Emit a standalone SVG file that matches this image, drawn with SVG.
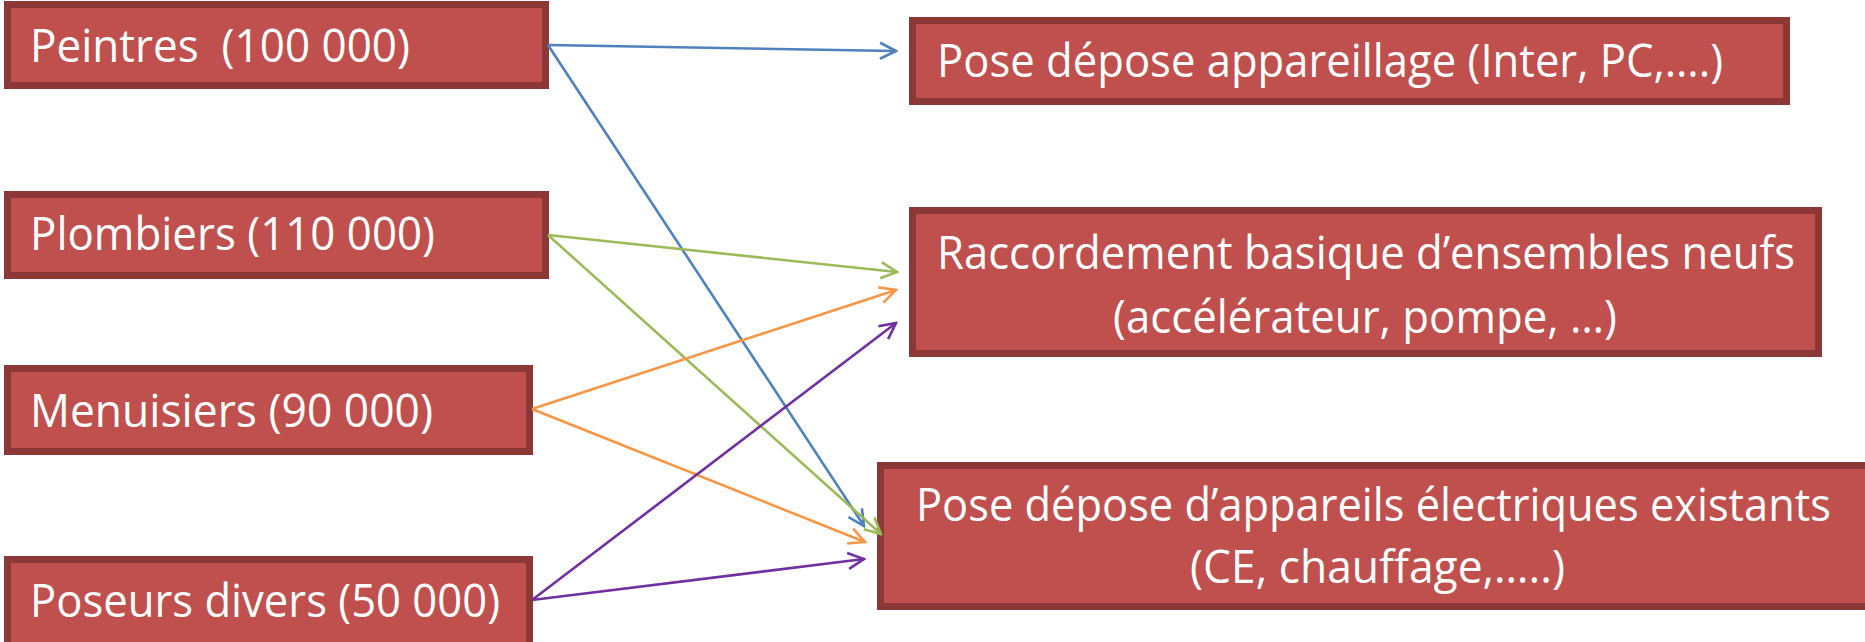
<svg xmlns="http://www.w3.org/2000/svg" width="1865" height="642" viewBox="0 0 1865 642">
<style>
.box{fill:#C0504D;stroke:#8C3836;stroke-width:7}
.t{fill:#FFFFFF;font-family:"Open Sans","Liberation Sans",sans-serif;font-size:45px}
.c{fill:none;stroke-width:2.6}
.blue{stroke:#4F81BD}.green{stroke:#9BBB59}.orange{stroke:#F79646}.purple{stroke:#7030A0}
</style>
<defs>
<marker id="aB" markerUnits="userSpaceOnUse" viewBox="0 0 20 20" refX="18" refY="10" markerWidth="20" markerHeight="20" orient="auto"><path d="M2,2 L18,10 L2,18" fill="none" stroke="#4F81BD" stroke-width="2.6"/></marker>
<marker id="aG" markerUnits="userSpaceOnUse" viewBox="0 0 20 20" refX="18" refY="10" markerWidth="20" markerHeight="20" orient="auto"><path d="M2,2 L18,10 L2,18" fill="none" stroke="#9BBB59" stroke-width="2.6"/></marker>
<marker id="aO" markerUnits="userSpaceOnUse" viewBox="0 0 20 20" refX="18" refY="10" markerWidth="20" markerHeight="20" orient="auto"><path d="M2,2 L18,10 L2,18" fill="none" stroke="#F79646" stroke-width="2.6"/></marker>
<marker id="aP" markerUnits="userSpaceOnUse" viewBox="0 0 20 20" refX="18" refY="10" markerWidth="20" markerHeight="20" orient="auto"><path d="M2,2 L18,10 L2,18" fill="none" stroke="#7030A0" stroke-width="2.6"/></marker>
</defs>
<rect width="1865" height="642" fill="#FFFFFF"/>
<g id="peintres"><rect class="box" x="7.5" y="4.5" width="538" height="81"/><text class="t" x="30" y="62" textLength="380" lengthAdjust="spacingAndGlyphs" xml:space="preserve">Peintres  (100 000)</text></g>
<g id="plombiers"><rect class="box" x="7.5" y="194.5" width="538" height="81"/><text class="t" x="30" y="250" textLength="405" lengthAdjust="spacingAndGlyphs">Plombiers (110 000)</text></g>
<g id="menuisiers"><rect class="box" x="7.5" y="368.5" width="522" height="83"/><text class="t" x="30" y="427" textLength="403" lengthAdjust="spacingAndGlyphs">Menuisiers (90 000)</text></g>
<g id="poseurs"><rect class="box" x="7.5" y="559.5" width="522" height="90"/><text class="t" x="30" y="617" textLength="470" lengthAdjust="spacingAndGlyphs">Poseurs divers (50 000)</text></g>
<g id="appareillage"><rect class="box" x="912.5" y="20.5" width="874" height="81"/><text class="t" x="937" y="77" textLength="786" lengthAdjust="spacingAndGlyphs">Pose dépose appareillage (Inter, PC,….)</text></g>
<g id="raccordement"><rect class="box" x="912.5" y="210.5" width="906" height="143"/><text class="t" x="937" y="269" textLength="858" lengthAdjust="spacingAndGlyphs">Raccordement basique d’ensembles neufs</text><text class="t" x="1113" y="333" textLength="504" lengthAdjust="spacingAndGlyphs">(accélérateur, pompe, …)</text></g>
<g id="existants"><rect class="box" x="880.5" y="465.5" width="990" height="141"/><text class="t" x="916" y="521" textLength="915" lengthAdjust="spacingAndGlyphs">Pose dépose d’appareils électriques existants</text><text class="t" x="1190" y="583" textLength="375" lengthAdjust="spacingAndGlyphs">(CE, chauffage,…..)</text></g>
<g id="connectors">
<line class="c blue" x1="548" y1="45" x2="896" y2="51" marker-end="url(#aB)"/>
<line class="c blue" x1="548" y1="45" x2="864" y2="526" marker-end="url(#aB)"/>
<line class="c green" x1="548" y1="235" x2="897" y2="272" marker-end="url(#aG)"/>
<line class="c green" x1="548" y1="235" x2="881" y2="534" marker-end="url(#aG)"/>
<line class="c orange" x1="532" y1="409" x2="896" y2="290" marker-end="url(#aO)"/>
<line class="c orange" x1="532" y1="409" x2="865" y2="542" marker-end="url(#aO)"/>
<line class="c purple" x1="532" y1="600" x2="896" y2="323" marker-end="url(#aP)"/>
<line class="c purple" x1="532" y1="600" x2="864" y2="559" marker-end="url(#aP)"/>
</g>
</svg>
